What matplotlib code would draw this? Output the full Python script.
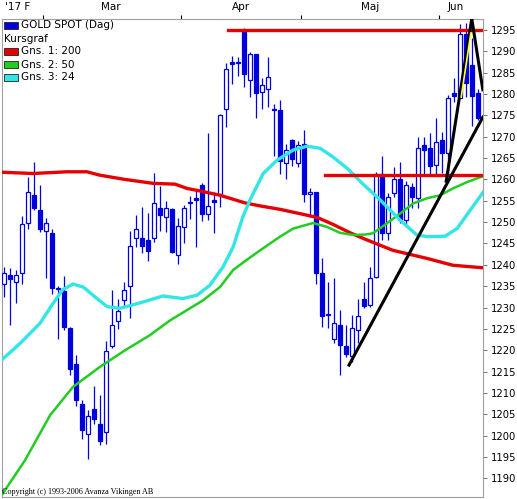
import matplotlib
matplotlib.use("Agg")
import matplotlib.pyplot as plt
from matplotlib.patches import Rectangle

# --- data (daily candles, index 0..79) ---
opens = [1235.6, 1237.7, 1235.9, 1238.0, 1249.7, 1256.3, 1252.8, 1247.9, 1247.4, 1234.3,
         1233.8, 1225.1, 1216.7, 1207.5, 1200.3, 1206.3, 1202.7, 1200.9, 1220.9, 1226.9,
         1231.7, 1235.1, 1246.4, 1246.2, 1245.8, 1246.3, 1253.2, 1251.2, 1253.0, 1242.4,
         1248.8, 1254.4, 1255.7, 1258.7, 1252.0, 1255.3, 1256.5, 1276.6, 1287.5, 1287.2,
         1295.0, 1283.4, 1289.3, 1280.4, 1281.3, 1276.4, 1276.3, 1263.8, 1269.2, 1263.9,
         1268.4, 1256.5, 1257.0, 1238.2, 1228.2, 1222.7, 1226.0, 1221.0, 1218.6, 1224.7,
         1231.9, 1230.6, 1237.2, 1261.3, 1247.4, 1256.9, 1260.0, 1250.6, 1258.3, 1255.6,
         1268.0, 1267.3, 1263.4, 1269.2, 1266.1, 1280.2, 1279.2, 1294.2, 1286.8, 1280.2]
highs = [1239.5, 1239.2, 1238.8, 1251.4, 1260.6, 1264.0, 1258.7, 1250.9, 1248.3, 1235.0,
         1237.3, 1225.5, 1218.8, 1208.4, 1205.9, 1211.6, 1209.5, 1222.2, 1234.1, 1231.9,
         1236.0, 1248.0, 1251.6, 1253.6, 1252.2, 1261.6, 1258.5, 1254.9, 1253.2, 1250.9,
         1254.0, 1256.1, 1257.5, 1259.1, 1270.8, 1257.1, 1275.3, 1287.2, 1288.9, 1288.7,
         1295.4, 1289.8, 1289.5, 1283.8, 1288.7, 1277.8, 1278.6, 1268.4, 1269.6, 1269.0,
         1271.6, 1258.1, 1257.1, 1241.5, 1236.0, 1236.8, 1229.4, 1226.0, 1228.2, 1232.1,
         1236.0, 1239.4, 1261.8, 1265.5, 1256.9, 1263.0, 1264.1, 1259.6, 1259.1, 1270.0,
         1269.9, 1270.8, 1274.3, 1271.2, 1279.8, 1283.7, 1296.4, 1296.6, 1293.1, 1281.3]
lows = [1232.5, 1226.0, 1231.1, 1235.6, 1248.3, 1252.8, 1247.6, 1236.8, 1233.1, 1222.7,
        1224.7, 1214.1, 1206.9, 1199.3, 1194.6, 1202.8, 1197.7, 1198.1, 1220.4, 1224.9,
        1230.2, 1227.5, 1244.2, 1242.7, 1240.9, 1245.4, 1248.0, 1247.7, 1242.8, 1240.1,
        1245.0, 1250.8, 1244.2, 1250.2, 1250.5, 1247.4, 1253.6, 1272.3, 1282.3, 1284.2,
        1281.7, 1279.4, 1274.4, 1276.5, 1277.0, 1265.5, 1261.2, 1260.2, 1263.1, 1263.0,
        1254.8, 1251.2, 1235.5, 1225.5, 1225.3, 1221.6, 1214.1, 1218.4, 1217.3, 1221.6,
        1229.8, 1230.2, 1236.8, 1245.8, 1245.8, 1255.9, 1249.7, 1248.9, 1253.2, 1253.2,
        1261.0, 1261.0, 1261.0, 1261.4, 1261.4, 1278.2, 1279.0, 1279.4, 1272.5, 1273.9]
closes = [1238.1, 1236.6, 1237.5, 1249.5, 1257.0, 1253.2, 1248.5, 1249.7, 1234.5, 1234.6,
          1225.5, 1215.5, 1208.4, 1201.4, 1204.5, 1203.8, 1198.8, 1219.8, 1226.0, 1229.2,
          1234.2, 1244.5, 1248.3, 1244.5, 1243.3, 1254.6, 1251.6, 1253.4, 1243.0, 1249.1,
          1253.2, 1254.6, 1255.3, 1251.8, 1253.8, 1254.8, 1275.1, 1285.8, 1287.1, 1287.4,
          1284.7, 1289.5, 1280.2, 1282.1, 1284.1, 1276.2, 1264.3, 1267.0, 1264.9, 1268.0,
          1256.7, 1257.0, 1238.1, 1228.0, 1228.4, 1226.3, 1221.3, 1219.1, 1225.1, 1228.0,
          1230.3, 1237.0, 1261.3, 1247.4, 1255.8, 1260.2, 1250.5, 1258.8, 1255.9, 1267.3,
          1266.9, 1263.2, 1268.8, 1266.2, 1279.0, 1279.5, 1294.2, 1282.7, 1279.5, 1274.3]

# moving averages (candle index, value)
ma200_x = [-0.4, 4.8, 10.5, 13.8, 16, 20.2, 24.8, 28.5, 30.5, 32.7, 36, 40.2, 42.7, 46,
           49.3, 52.2, 54.8, 57.7, 60.2, 64.8, 70.5, 74.8, 79.9]
ma200_y = [1261.7, 1261.4, 1261.8, 1261.8, 1261.0, 1260.0, 1259.1, 1258.9, 1257.9, 1257.3,
           1256.3, 1254.5, 1253.8, 1253.0, 1252.0, 1251.1, 1249.5, 1247.5, 1246.0, 1243.4,
           1241.5, 1239.9, 1239.3]
ma50_x = [-0.4, 3.5, 7.7, 11.5, 16, 20.2, 24.3, 27.7, 33.2, 36, 38.2, 40.2, 42.7, 46, 48.2,
          51.5, 53.8, 56, 58.2, 60.2, 61.5, 63.8, 66, 68.2, 70.5, 72.7, 74.8, 77.2, 79.9]
ma50_y = [1186.0, 1194.2, 1204.8, 1211.4, 1216.1, 1220.0, 1223.5, 1227.0, 1231.7, 1234.8,
          1238.8, 1240.9, 1243.4, 1246.6, 1248.5, 1249.8, 1248.9, 1247.5, 1247.0, 1247.1,
          1247.4, 1249.7, 1252.0, 1254.4, 1255.6, 1256.3, 1257.9, 1259.4, 1260.8]
ma24_x = [-0.4, 2.7, 6, 8.2, 9.8, 11.5, 13.2, 15.5, 17.2, 19.3, 22.7, 26.5, 29.8, 32.2,
          34.3, 36.5, 38.2, 39.8, 41, 43.2, 45.5, 48.2, 50.5, 52.7, 54.8, 57.2, 59.7, 62.7,
          66, 68.8, 70.5, 73.5, 75.5, 77.7, 79.9]
ma24_y = [1217.7, 1221.6, 1226.3, 1231.0, 1234.2, 1235.5, 1234.8, 1232.1, 1230.2, 1229.8,
          1231.1, 1232.7, 1232.1, 1232.9, 1235.2, 1239.5, 1244.2, 1251.2, 1255.2, 1261.4,
          1264.5, 1266.9, 1267.8, 1267.3, 1265.3, 1262.6, 1259.1, 1255.2, 1250.5, 1247.0,
          1246.6, 1246.7, 1248.5, 1252.8, 1257.1]

# drawn trend lines and levels
level_hi, level_hi_from = 1295.0, 37.3
level_mid, level_mid_from = 1261.1, 53.5
trend_low = ([57.5, 79.8], [1216.5, 1274.6])
trend_steep = ([73.7, 78.0], [1259.6, 1298.0])
trend_down = ([78.0, 79.8], [1297.3, 1281.0])
trend_yellow = ([76.2, 77.8], [1279.3, 1294.3])

month_bounds = [6.5, 29.5, 49.5, 72.5]
month_names = ["'17 F", "Mar", "Apr", "Maj", "Jun"]
month_centers = [2.3, 17.8, 39.5, 61.0, 75.3]
price_ticks = list(range(1190, 1300, 5))

W, H = 517, 499
BLUE = "#0000dd"
RED = "#e60000"
GREEN = "#22cc22"
CYAN = "#33e6e6"

fig = plt.figure(figsize=(W / 100, H / 100), dpi=100)
ax = fig.add_axes([2 / W, 2 / H, 481 / W, 478 / H])
ax.set_xlim(-0.33, 79.83)
ax.set_ylim(1185.6, 1297.6)

# candles
for i in range(len(opens)):
    o, h, l, c = opens[i], highs[i], lows[i], closes[i]
    ax.vlines(i, l, h, color=BLUE, lw=0.9, zorder=2)
    up = c >= o
    bot = min(o, c)
    hgt = max(abs(c - o), 0.25)
    ax.add_patch(Rectangle((i - 0.36, bot), 0.72, hgt,
                           facecolor="white" if up else BLUE,
                           edgecolor=BLUE, lw=0.9, zorder=3))

# averages
ax.plot(ma200_x, ma200_y, color=RED, lw=2.4, zorder=4, solid_capstyle="butt")
ax.plot(ma50_x, ma50_y, color=GREEN, lw=1.8, zorder=4)
ax.plot(ma24_x, ma24_y, color=CYAN, lw=2.4, zorder=4)

# horizontal levels
ax.plot([level_hi_from, 79.83], [level_hi, level_hi], color=RED, lw=2.4, zorder=5)
ax.plot([level_mid_from, 79.83], [level_mid, level_mid], color=RED, lw=2.4, zorder=5)

# trend lines
for xs, ys in (trend_low, trend_steep, trend_down):
    ax.plot(xs, ys, color="black", lw=2.2, zorder=6)
ax.plot(*trend_yellow, color="#ffff33", lw=1.2, zorder=7)

# axes styling
for s in ax.spines.values():
    s.set_color("#a0a0a0")
    s.set_linewidth(0.8)
ax.yaxis.tick_right()
ax.set_yticks(price_ticks)
ax.set_yticklabels([str(t) for t in price_ticks], fontsize=7.2, family="DejaVu Sans")
ax.tick_params(axis="y", direction="out", length=3, width=0.6, color="#606060", pad=3)

ax.xaxis.tick_top()
ax.set_xticks(month_bounds)
ax.set_xticklabels([])
ax.set_xticks(month_centers, minor=True)
ax.set_xticklabels(month_names, minor=True, fontsize=7.5, family="DejaVu Sans")
ax.tick_params(axis="x", which="major", direction="out", length=3, width=0.8, color="black")
ax.tick_params(axis="x", which="minor", length=0, pad=5)

# legend drawn by hand in pixel positions
def fx(px):
    return px / W


def fy(py):
    return 1 - py / H


legend_rows = [(BLUE, "GOLD SPOT (Dag)"), (None, "Kursgraf"), (RED, "Gns. 1: 200"),
               (GREEN, "Gns. 2: 50"), (CYAN, "Gns. 3: 24")]
for k, (col, label) in enumerate(legend_rows):
    yc = 25.5 + 13 * k
    if col is not None:
        fig.patches.append(Rectangle((fx(4), fy(yc + 3.5)), 14 / W, 7 / H,
                                     transform=fig.transFigure, facecolor=col,
                                     edgecolor="#202020", lw=0.6, zorder=10))
        fig.text(fx(21), fy(yc), label, fontsize=7.5, va="center", ha="left", zorder=11)
    else:
        fig.text(fx(4), fy(yc), label, fontsize=7.5, va="center", ha="left", zorder=11)

fig.text(fx(2), fy(492), "Copyright (c) 1993-2006 Avanza Vikingen AB",
         fontsize=5.9, family="Liberation Serif", va="center", ha="left")

fig.savefig("out.png", dpi=100)
